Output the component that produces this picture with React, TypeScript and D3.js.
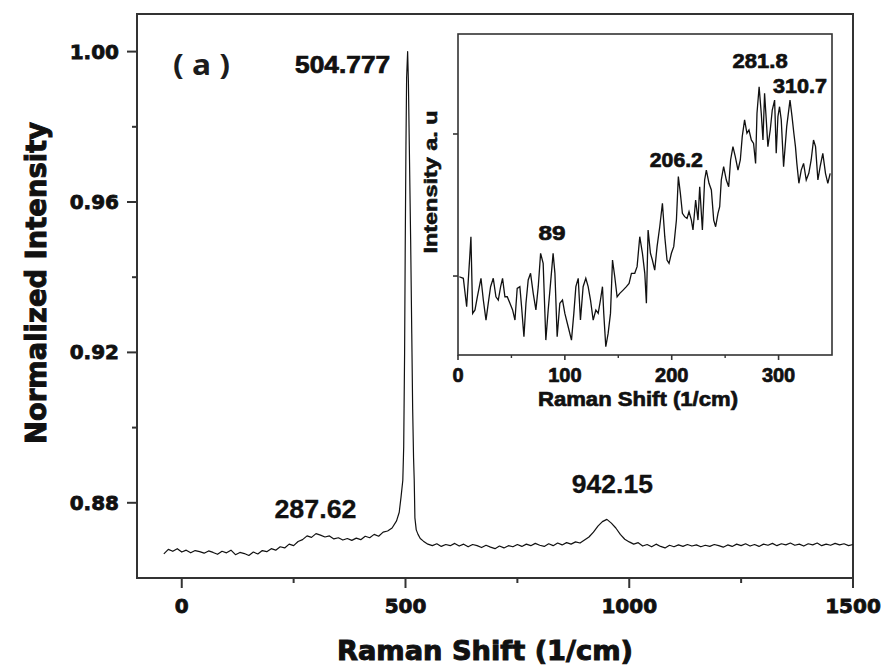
import React from 'react';
import * as d3 from 'd3';

// Main Raman spectrum (normalized intensity vs Raman shift, 1/cm)
const ramanShift = [
  -40, -30, -20, -10, 0, 10, 20, 30, 40, 50,
  60, 70, 80, 90, 100, 110, 120, 130, 140, 150,
  160, 170, 180, 190, 200, 210, 220, 230, 240, 250,
  260, 270, 280, 290, 300, 310, 320, 330, 340, 350,
  360, 370, 380, 390, 400, 410, 420, 430, 440, 450,
  460, 470, 480, 486, 490, 494, 496, 498, 499.5, 501,
  502.5, 504.777, 506.5, 508.5, 511.5, 514, 516, 518, 519.5, 521,
  524, 528, 533,
  540, 550, 560, 570, 580, 590, 600, 610, 620, 630,
  640, 650, 660, 670, 680, 690, 700, 710, 720, 730,
  740, 750, 760, 770, 780, 790, 800, 810, 820, 830,
  840, 850, 860, 870, 880, 890, 900, 910, 920, 930,
  940, 950, 960, 970, 980, 990, 1000, 1010, 1020, 1030,
  1040, 1050, 1060, 1070, 1080, 1090, 1100, 1110, 1120, 1130,
  1140, 1150, 1160, 1170, 1180, 1190, 1200, 1210, 1220, 1230,
  1240, 1250, 1260, 1270, 1280, 1290, 1300, 1310, 1320, 1330,
  1340, 1350, 1360, 1370, 1380, 1390, 1400, 1410, 1420, 1430,
  1440, 1450, 1460, 1470, 1480, 1490, 1500,
];

const normIntensity = [
  0.8664, 0.8676, 0.8671, 0.8678, 0.8669, 0.8674, 0.8667, 0.8673, 0.8670, 0.8666,
  0.8672, 0.8668, 0.8663, 0.8671, 0.8667, 0.8674, 0.8662, 0.8668, 0.8665, 0.8660,
  0.8669, 0.8664, 0.8673, 0.8670, 0.8678, 0.8674, 0.8683, 0.8680, 0.8690, 0.8686,
  0.8697, 0.8702, 0.8712, 0.8708, 0.8718, 0.8714, 0.8709, 0.8712, 0.8704, 0.8707,
  0.8701, 0.8705, 0.8700, 0.8706, 0.8702, 0.8711, 0.8707, 0.8716, 0.8711, 0.8722,
  0.8725, 0.8733, 0.8752, 0.8775, 0.8815, 0.8860, 0.8950, 0.9200, 0.9500, 0.9750,
  0.9930, 1.0000, 0.9920, 0.9750, 0.9500, 0.9250, 0.9050, 0.8920, 0.8860, 0.8760,
  0.8728, 0.8716, 0.8705,
  0.8698, 0.8690, 0.8686, 0.8691, 0.8684, 0.8689, 0.8686, 0.8692, 0.8685, 0.8690,
  0.8683, 0.8689, 0.8686, 0.8681, 0.8687, 0.8682, 0.8678, 0.8685, 0.8680, 0.8686,
  0.8683, 0.8689, 0.8684, 0.8690, 0.8686, 0.8692, 0.8687, 0.8684, 0.8691, 0.8686,
  0.8693, 0.8688, 0.8694, 0.8690, 0.8696, 0.8693, 0.8701, 0.8709, 0.8722, 0.8738,
  0.8750, 0.8756, 0.8746, 0.8733, 0.8716, 0.8703, 0.8696, 0.8690, 0.8694, 0.8685,
  0.8689, 0.8683, 0.8690, 0.8684, 0.8680, 0.8687, 0.8683, 0.8688, 0.8684, 0.8689,
  0.8685, 0.8688, 0.8683, 0.8687, 0.8684, 0.8689, 0.8686, 0.8682, 0.8688, 0.8684,
  0.8690, 0.8686, 0.8691, 0.8685, 0.8689, 0.8684, 0.8690, 0.8687, 0.8692, 0.8686,
  0.8691, 0.8688, 0.8693, 0.8687, 0.8690, 0.8685, 0.8691, 0.8688, 0.8693, 0.8686,
  0.8690, 0.8687, 0.8692, 0.8688, 0.8691, 0.8686, 0.8689,
];

// Low-frequency region (inset), arbitrary intensity units
const insetShift = [
  1.2, 5.0, 8.1, 11.2, 12.1, 13.7, 15.9, 18.1, 21.5, 23.7,
  26.2, 28.3, 30.5, 33.0, 35.5, 37.7, 39.9, 41.7, 43.9, 46.1,
  48.6, 51.1, 53.3, 55.4, 57.9, 59.5, 61.7, 63.6, 65.7, 67.9,
  70.4, 72.9, 75.1, 77.3, 79.7, 82.2, 84.4, 86.6, 89.0, 90.7,
  92.8, 95.3, 97.8, 100.0, 103.1, 106.2, 108.4, 110.3, 112.5, 114.6,
  117.1, 119.6, 121.8, 124.0, 126.5, 129.0, 131.2, 133.3, 135.2, 136.4,
  138.3, 140.5, 142.7, 144.6, 146.7, 148.9, 151.4, 154.5, 157.6, 160.1,
  162.3, 165.4, 167.6, 170.1, 172.6, 174.8, 176.3, 177.9, 180.1, 181.9,
  184.1, 186.3, 188.8, 191.3, 193.5, 195.6, 197.5, 199.7, 201.9, 204.4,
  206.2, 208.1, 210.0, 212.1, 214.3, 216.2, 218.4, 219.9, 222.4, 224.6,
  226.2, 228.7, 230.8, 232.4, 234.9, 237.1, 239.3, 241.1, 243.3, 244.9,
  246.4, 248.6, 251.1, 253.3, 255.1, 257.3, 259.5, 262.0, 264.2, 266.0,
  268.2, 270.4, 272.3, 274.5, 276.6, 278.5, 279.8, 281.8, 283.8, 285.4,
  286.9, 288.5, 290.0, 292.2, 294.1, 296.3, 297.8, 299.4, 300.9, 302.5,
  304.7, 307.6, 310.7, 312.6, 314.3, 315.8, 317.1, 319.0, 321.2, 323.4,
  325.9, 328.3, 330.5, 332.7, 334.6, 336.8, 338.9, 341.4, 343.9, 346.1,
  348.3,
];

const insetIntensity = [
  99.5, 98.4, 78.4, 116.0, 127.7, 73.7, 76.1, 85.4, 98.4, 83.1,
  69.0, 80.8, 92.5, 98.4, 85.4, 83.1, 92.5, 98.4, 85.4, 85.4,
  80.8, 76.1, 69.0, 91.3, 92.5, 78.4, 57.3, 80.8, 97.2, 101.9,
  87.8, 76.1, 92.5, 116.0, 108.9, 54.9, 76.1, 94.8, 116.0, 101.9,
  57.3, 80.8, 83.1, 73.7, 64.3, 54.9, 73.7, 92.5, 98.4, 69.0,
  92.5, 98.4, 92.5, 83.1, 69.0, 76.1, 73.7, 83.1, 92.5, 73.7,
  50.2, 59.6, 73.7, 111.3, 99.5, 85.4, 87.8, 90.1, 92.5, 94.8,
  101.9, 101.9, 106.6, 127.7, 116.0, 101.9, 80.8, 132.4, 116.0, 111.3,
  104.2, 120.7, 134.7, 151.2, 127.7, 111.3, 108.9, 116.0, 120.7, 139.4,
  170.0, 158.2, 144.1, 141.8, 140.6, 145.3, 139.4, 132.4, 153.5, 139.4,
  162.9, 132.4, 167.6, 174.6, 165.3, 160.6, 139.4, 134.7, 144.1, 148.8,
  167.6, 177.0, 167.6, 162.9, 181.7, 191.1, 184.0, 174.6, 181.7, 198.1,
  209.9, 200.5, 202.8, 195.8, 193.4, 179.3, 214.6, 233.3, 214.6, 195.8,
  228.6, 209.9, 191.1, 202.8, 216.9, 223.9, 186.4, 212.2, 219.2, 209.9,
  177.0, 205.2, 223.9, 212.2, 200.5, 191.1, 179.3, 165.3, 174.6, 179.3,
  167.6, 172.3, 181.7, 195.8, 191.1, 167.6, 177.0, 186.4, 172.3, 165.3,
  172.3,
];

const mainXTicks = [0, 500, 1000, 1500];
const mainXMinor = [250, 750, 1250];
const mainYTicks = [0.88, 0.92, 0.96, 1.0];
const mainYMinor = [0.9, 0.94, 0.98];
const insetXTicks = [0, 100, 200, 300];
const insetXMinor = [50, 150, 250];
const insetYTicks = [100, 200];

const mainPeakLabels = ['287.62', '504.777', '942.15'];
const insetPeakLabels = ['89', '206.2', '281.8', '310.7'];

const INK = '#111';
const AXIS = '#333';
const WIDE = 'DejaVu Sans, Verdana, sans-serif';
const ARIAL = 'Liberation Sans, Arial, sans-serif';

// heavy text: a thin outline in the fill colour thickens the glyphs
const heavy = (w: number) => ({ stroke: INK, strokeWidth: w, paintOrder: 'stroke' as const });

export default function App() {
  const x = d3.scaleLinear().domain([-100, 1500]).range([137, 853]);
  const y = d3.scaleLinear().domain([0.86, 1.01]).range([578, 14]);
  const ix = d3.scaleLinear().domain([0, 350]).range([458, 832]);
  const iy = d3.scaleLinear().domain([44.4, 270.4]).range([355, 34]);

  const mainPath = d3
    .line<number>()
    .x((_, i) => x(ramanShift[i]))
    .y((d) => y(d))(normIntensity) as string;

  const insetPath = d3
    .line<number>()
    .x((_, i) => ix(insetShift[i]))
    .y((d) => iy(d))(insetIntensity) as string;

  const [x0, x1] = x.range();
  const [yb, yt] = y.range();
  const [ix0, ix1] = ix.range();
  const [iyb, iyt] = iy.range();

  // label anchors: [x, baseline y, width, font-size]
  const mainLabelPos: Record<string, [number, number, number, number]> = {
    '287.62': [x(+mainPeakLabels[0]) + 5, 518, 82, 25],
    '504.777': [x(+mainPeakLabels[1]) - 65, 73, 95, 23],
    '942.15': [x(+mainPeakLabels[2]) + 9, 493, 81, 25],
  };
  const insetLabelPos: Record<string, [number, number, number]> = {
    '89': [ix(+insetPeakLabels[0]) - 1, 240, 27],
    '206.2': [ix(+insetPeakLabels[1]) - 2, 167, 53],
    '281.8': [ix(+insetPeakLabels[2]) + 1, 68, 55],
    '310.7': [ix(+insetPeakLabels[3]) + 10, 93, 54],
  };

  return (
    <svg
      width={883}
      height={667}
      viewBox="0 0 883 667"
      style={{ position: 'absolute', left: 0, top: 0, background: '#fff' }}
    >
      <rect x={0} y={0} width={883} height={667} fill="#fff" />

      {/* main frame */}
      <rect x={x0} y={yt} width={x1 - x0} height={yb - yt} fill="none" stroke={AXIS} strokeWidth={2} />

      {/* main x ticks */}
      {mainXTicks.map((t) => (
        <g key={'mx' + t}>
          <line x1={x(t)} x2={x(t)} y1={yb} y2={yb + 10} stroke={AXIS} strokeWidth={2} />
          <text
            x={x(t)}
            y={613}
            textAnchor="middle"
            fontFamily={WIDE}
            fontWeight="bold"
            fontSize={20}
            fill={INK}
            {...heavy(0.8)}
          >
            {t}
          </text>
        </g>
      ))}
      {mainXMinor.map((t) => (
        <line key={'mxm' + t} x1={x(t)} x2={x(t)} y1={yb} y2={yb + 5} stroke={AXIS} strokeWidth={2} />
      ))}

      {/* main y ticks */}
      {mainYTicks.map((t) => (
        <g key={'my' + t}>
          <line x1={x0 - 10} x2={x0} y1={y(t)} y2={y(t)} stroke={AXIS} strokeWidth={2} />
          <text
            x={119}
            y={y(t) + 7}
            textAnchor="end"
            fontFamily={WIDE}
            fontWeight="bold"
            fontSize={20}
            fill={INK}
            {...heavy(0.8)}
          >
            {d3.format('.2f')(t)}
          </text>
        </g>
      ))}
      {mainYMinor.map((t) => (
        <line key={'mym' + t} x1={x0 - 5} x2={x0} y1={y(t)} y2={y(t)} stroke={AXIS} strokeWidth={2} />
      ))}

      {/* axis titles */}
      <text
        x={485}
        y={660}
        textAnchor="middle"
        fontFamily={WIDE}
        fontWeight="bold"
        fontSize={27}
        textLength={296}
        lengthAdjust="spacingAndGlyphs"
        fill={INK}
        {...heavy(1)}
      >
        Raman Shift (1/cm)
      </text>
      <text
        transform="translate(46,283) rotate(-90)"
        textAnchor="middle"
        fontFamily={WIDE}
        fontWeight="bold"
        fontSize={29}
        textLength={322}
        lengthAdjust="spacingAndGlyphs"
        fill={INK}
        {...heavy(1)}
      >
        Normalized Intensity
      </text>

      {/* main spectrum */}
      <path d={mainPath} fill="none" stroke={INK} strokeWidth={1.2} strokeLinejoin="round" />

      {/* main labels */}
      <text
        x={173}
        y={75}
        fontFamily="Noto Sans, Open Sans, sans-serif"
        fontWeight="bold"
        fontSize={28}
        textLength={57}
        lengthAdjust="spacingAndGlyphs"
        fill="#1c1c1c"
      >
        ( a )
      </text>
      {mainPeakLabels.map((s) => {
        const [lx, ly, w, fs] = mainLabelPos[s];
        return (
          <text
            key={'ml' + s}
            x={lx}
            y={ly}
            textAnchor="middle"
            fontFamily={ARIAL}
            fontWeight="bold"
            fontSize={fs}
            textLength={w}
            lengthAdjust="spacingAndGlyphs"
            fill={INK}
            {...heavy(s === '504.777' ? 0.7 : 0.3)}
          >
            {s}
          </text>
        );
      })}

      {/* inset */}
      <rect x={ix0} y={iyt} width={ix1 - ix0} height={iyb - iyt} fill="#fff" stroke={AXIS} strokeWidth={1.6} />
      {insetXTicks.map((t) => (
        <g key={'ix' + t}>
          <line x1={ix(t)} x2={ix(t)} y1={iyb} y2={iyb + 5} stroke={AXIS} strokeWidth={1.6} />
          <text
            x={ix(t)}
            y={382}
            textAnchor="middle"
            fontFamily={ARIAL}
            fontWeight="bold"
            fontSize={20}
            fill={INK}
            {...heavy(0.7)}
          >
            {t}
          </text>
        </g>
      ))}
      {insetXMinor.map((t) => (
        <line key={'ixm' + t} x1={ix(t)} x2={ix(t)} y1={iyb} y2={iyb + 3} stroke={AXIS} strokeWidth={1.4} />
      ))}
      {insetYTicks.map((t) => (
        <line key={'iy' + t} x1={ix0 - 5} x2={ix0} y1={iy(t)} y2={iy(t)} stroke={AXIS} strokeWidth={1.6} />
      ))}
      <text
        x={638}
        y={406}
        textAnchor="middle"
        fontFamily={ARIAL}
        fontWeight="bold"
        fontSize={21}
        textLength={200}
        lengthAdjust="spacingAndGlyphs"
        fill={INK}
        {...heavy(0.7)}
      >
        Raman Shift (1/cm)
      </text>
      <text
        transform="translate(437,182) rotate(-90)"
        textAnchor="middle"
        fontFamily={ARIAL}
        fontWeight="bold"
        fontSize={19}
        textLength={143}
        lengthAdjust="spacingAndGlyphs"
        fill={INK}
        {...heavy(0.6)}
      >
        Intensity a. u
      </text>
      <path d={insetPath} fill="none" stroke={INK} strokeWidth={1.3} strokeLinejoin="miter" />
      {insetPeakLabels.map((s) => {
        const [lx, ly, w] = insetLabelPos[s];
        return (
          <text
            key={'il' + s}
            x={lx}
            y={ly}
            textAnchor="middle"
            fontFamily={ARIAL}
            fontWeight="bold"
            fontSize={21}
            textLength={w}
            lengthAdjust="spacingAndGlyphs"
            fill={INK}
            {...heavy(0.7)}
          >
            {s}
          </text>
        );
      })}
    </svg>
  );
}
